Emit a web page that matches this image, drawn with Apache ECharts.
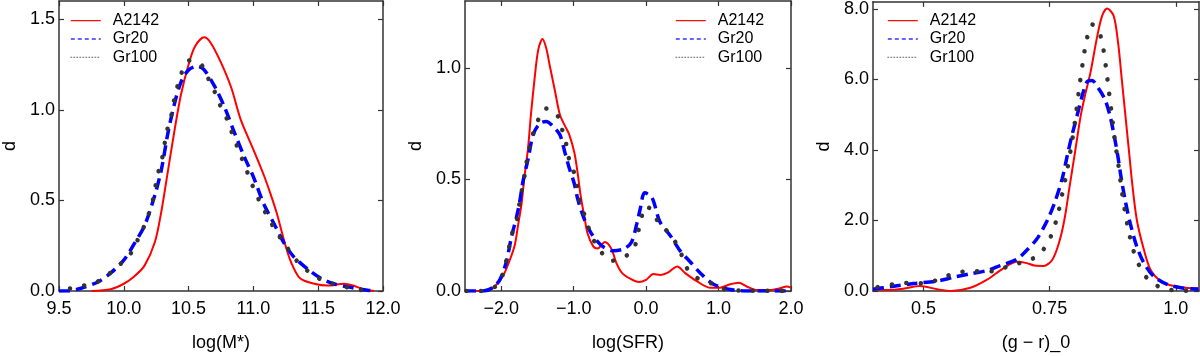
<!DOCTYPE html>
<html>
<head>
<meta charset="utf-8">
<script src="https://cdn.jsdelivr.net/npm/echarts@6/dist/echarts.min.js"></script>
<style>
  html, body { margin: 0; padding: 0; background: #fff; }
  #main { width: 1200px; height: 357px; }
</style>
</head>
<body>
<div id="main"></div>
<script>
// density curves, [x, d]
const massA2142 = [[9.75,0],[9.9,0.01],[10.0,0.04],[10.08,0.08],[10.16,0.14],[10.24,0.27],[10.29,0.44],[10.34,0.66],[10.39,0.88],[10.44,1.08],[10.5,1.25],[10.55,1.35],[10.62,1.40],[10.67,1.37],[10.75,1.26],[10.83,1.12],[10.9,0.95],[11.0,0.78],[11.08,0.64],[11.13,0.54],[11.18,0.43],[11.24,0.27],[11.29,0.16],[11.36,0.07],[11.47,0.04],[11.57,0.03],[11.7,0.04],[11.77,0.03],[11.85,0.01],[11.93,0]];
const massGr20 = [[9.5,0],[9.57,0],[9.67,0.015],[9.8,0.05],[9.9,0.1],[10.0,0.17],[10.08,0.26],[10.16,0.36],[10.24,0.53],[10.29,0.67],[10.34,0.87],[10.39,1.03],[10.44,1.15],[10.5,1.22],[10.57,1.24],[10.62,1.22],[10.7,1.13],[10.78,1.01],[10.85,0.88],[10.93,0.74],[11.0,0.63],[11.08,0.48],[11.16,0.37],[11.24,0.26],[11.31,0.19],[11.42,0.12],[11.52,0.07],[11.62,0.04],[11.75,0.02],[11.88,0.004],[11.95,0]];
const massGr100 = [[9.585,0.014],[9.687,0.029],[9.802,0.053],[9.892,0.098],[9.974,0.149],[10.053,0.207],[10.105,0.279],[10.153,0.351],[10.192,0.424],[10.225,0.504],[10.245,0.58],[10.268,0.659],[10.297,0.736],[10.315,0.812],[10.335,0.888],[10.366,0.967],[10.386,1.047],[10.412,1.123],[10.435,1.185],[10.507,1.272],[10.596,1.25],[10.648,1.178],[10.694,1.112],[10.737,1.034],[10.788,0.962],[10.827,0.888],[10.865,0.815],[10.904,0.743],[10.947,0.667],[10.986,0.594],[11.032,0.518],[11.083,0.446],[11.139,0.373],[11.196,0.306],[11.255,0.246],[11.319,0.179],[11.403,0.12],[11.493,0.074],[11.595,0.043],[11.698,0.025],[11.813,0.007],[11.928,0]];

const sfrA2142 = [[-2.5,0],[-2.2,0],[-2.06,0.03],[-1.97,0.07],[-1.88,0.14],[-1.81,0.21],[-1.77,0.29],[-1.72,0.39],[-1.68,0.51],[-1.63,0.64],[-1.59,0.79],[-1.54,0.95],[-1.49,1.08],[-1.43,1.13],[-1.38,1.09],[-1.33,1.01],[-1.26,0.90],[-1.19,0.79],[-1.12,0.74],[-1.06,0.70],[-0.99,0.62],[-0.95,0.54],[-0.90,0.42],[-0.85,0.33],[-0.81,0.26],[-0.73,0.20],[-0.67,0.19],[-0.57,0.22],[-0.48,0.19],[-0.41,0.125],[-0.33,0.08],[-0.22,0.055],[-0.1,0.04],[0.0,0.05],[0.1,0.076],[0.2,0.072],[0.3,0.082],[0.43,0.11],[0.54,0.08],[0.7,0.044],[0.88,0.015],[1.02,0.015],[1.16,0.03],[1.28,0.037],[1.39,0.02],[1.53,0.004],[1.71,0.004],[1.85,0.012],[1.94,0.02],[2.0,0.015]];
const sfrGr20 = [[-2.5,0],[-2.25,0],[-2.12,0.015],[-2.02,0.05],[-1.93,0.13],[-1.86,0.24],[-1.79,0.33],[-1.75,0.39],[-1.70,0.49],[-1.63,0.59],[-1.56,0.70],[-1.47,0.75],[-1.38,0.76],[-1.29,0.74],[-1.19,0.70],[-1.12,0.62],[-1.06,0.55],[-0.99,0.48],[-0.95,0.42],[-0.88,0.345],[-0.81,0.29],[-0.73,0.245],[-0.6,0.2],[-0.45,0.18],[-0.3,0.19],[-0.2,0.22],[-0.13,0.30],[-0.08,0.37],[-0.02,0.44],[0.08,0.42],[0.19,0.31],[0.33,0.25],[0.47,0.18],[0.61,0.13],[0.75,0.08],[0.93,0.03],[1.16,0.007],[1.39,0],[2.0,0]];
const sfrGr100 = [[-2.48,0],[-2.28,0],[-2.08,0.02],[-1.98,0.073],[-1.85,0.257],[-1.78,0.323],[-1.75,0.389],[-1.68,0.514],[-1.65,0.577],[-1.61,0.642],[-1.56,0.705],[-1.49,0.767],[-1.38,0.818],[-1.24,0.796],[-1.17,0.734],[-1.11,0.671],[-1.08,0.609],[-1.01,0.548],[-0.96,0.482],[-0.93,0.421],[-0.87,0.36],[-0.81,0.298],[-0.74,0.239],[-0.64,0.184],[-0.49,0.135],[-0.31,0.151],[-0.17,0.19],[-0.12,0.25],[-0.07,0.32],[-0.01,0.38],[0.09,0.36],[0.18,0.30],[0.32,0.26],[0.42,0.21],[0.51,0.147],[0.59,0.088],[0.75,0.05],[0.94,0.03],[1.12,0.004],[1.32,0.002],[1.93,0]];

const colorA2142 = [[0.4,0.04],[0.43,0.03],[0.46,0.065],[0.493,0.14],[0.527,0.05],[0.555,0.0],[0.593,0.09],[0.626,0.32],[0.659,0.65],[0.685,0.83],[0.705,0.79],[0.72,0.72],[0.738,0.71],[0.755,0.88],[0.768,1.34],[0.779,2.0],[0.79,3.0],[0.801,4.0],[0.812,5.0],[0.821,5.6],[0.831,6.2],[0.844,7.2],[0.854,7.8],[0.864,8.01],[0.877,7.8],[0.886,7.0],[0.893,6.0],[0.9,5.0],[0.907,4.0],[0.914,3.0],[0.923,2.0],[0.937,1.16],[0.95,0.6],[0.97,0.28],[0.996,0.14],[1.03,0.08],[1.045,0.08]];
const colorGr20 = [[0.4,0.05],[0.434,0.12],[0.48,0.21],[0.527,0.28],[0.56,0.39],[0.593,0.49],[0.626,0.58],[0.652,0.72],[0.685,0.9],[0.705,1.16],[0.725,1.48],[0.745,1.99],[0.761,2.55],[0.775,3.19],[0.785,3.84],[0.794,4.4],[0.804,4.95],[0.814,5.51],[0.824,5.93],[0.834,5.97],[0.847,5.74],[0.86,5.42],[0.87,4.95],[0.878,4.4],[0.885,3.84],[0.892,3.19],[0.9,2.55],[0.91,1.9],[0.923,1.25],[0.937,0.79],[0.956,0.42],[0.983,0.19],[1.016,0.08],[1.045,0.05]];
const colorGr100 = [[0.409,0.11],[0.439,0.19],[0.468,0.23],[0.497,0.22],[0.525,0.3],[0.551,0.45],[0.579,0.55],[0.608,0.56],[0.638,0.56],[0.664,0.68],[0.692,0.8],[0.718,0.93],[0.739,1.2],[0.753,1.57],[0.765,2.1],[0.775,2.75],[0.785,3.45],[0.795,4.3],[0.803,5.1],[0.81,5.9],[0.816,6.5],[0.823,7.1],[0.834,7.56],[0.849,7.3],[0.856,6.9],[0.862,6.3],[0.868,5.6],[0.874,4.9],[0.879,4.3],[0.886,3.6],[0.893,2.85],[0.9,2.2],[0.907,1.67],[0.915,1.2],[0.923,0.88],[0.935,0.51],[0.955,0.21],[0.982,0.05],[1.013,0.01],[1.045,0.01]];

// tick positions
const massTicks = [9.5, 10.0, 10.5, 11.0, 11.5, 12.0];
const sfrTicks = [-2.0, -1.0, 0.0, 1.0, 2.0];
const colorTicks = [0.5, 0.75, 1.0];
const massDTicks = [0, 0.5, 1.0, 1.5];
const sfrDTicks = [0, 0.5, 1.0];
const colorDTicks = [0, 2, 4, 6, 8];
const colorTickLabels = ['0.5', '0.75', '1.0'];

const names = ['A2142', 'Gr20', 'Gr100'];
const font = 'Liberation Sans, Arial, sans-serif';
const dark = '#333';

function fmt1(v) {
  return (v < 0 ? '\u2212' : '') + Math.abs(v).toFixed(1);
}

const panels = [
  { left: 57, xMin: 9.5, xMax: 12.0, yMax: 1.6, xTicks: massTicks, yTicks: massDTicks, xFmt: fmt1, xName: 'log(M*)', data: [massA2142, massGr20, massGr100], legendLeft: 70 },
  { left: 465, xMin: -2.5, xMax: 2.0, yMax: 1.3, xTicks: sfrTicks, yTicks: sfrDTicks, xFmt: fmt1, xName: 'log(SFR)', data: [sfrA2142, sfrGr20, sfrGr100], legendLeft: 675 },
  { left: 873, xMin: 0.4, xMax: 1.046, yMax: 8.2, xTicks: colorTicks, yTicks: colorDTicks, xFmt: function (v) { return colorTickLabels[colorTicks.indexOf(v)] || v; }, xName: '(g \u2212 r)_0', data: [colorA2142, colorGr20, colorGr100], legendLeft: 887 }
];

const seriesStyles = [
  { color: '#ff0000', width: 2, type: 'solid' },
  { color: '#0000ff', width: 3.5, type: [11, 6] },
  { color: '#333333', width: 4.5, type: [0.1, 14.4], cap: 'round' }
];
const legendStyles = [
  { color: '#ff0000', width: 1.2, type: 'solid' },
  { color: '#3333ff', width: 1.6, type: [4, 3] },
  { color: '#666666', width: 1, type: [1, 2] }
];

const grid = [], xAxis = [], yAxis = [], series = [], legend = [];

panels.forEach(function (p, i) {
  grid.push({ left: p.left, top: 1, width: 326, height: 294 });
  const line = { show: true, onZero: false, lineStyle: { color: dark, width: 1.5 } };
  const tickBase = { show: true, inside: true, length: 5, lineStyle: { color: dark, width: 1.2 } };
  xAxis.push({
    type: 'value', gridIndex: i, position: 'bottom', min: p.xMin, max: p.xMax,
    axisLine: line, splitLine: { show: false },
    axisTick: Object.assign({ customValues: p.xTicks }, tickBase),
    axisLabel: { customValues: p.xTicks, formatter: p.xFmt, margin: 9, fontSize: 18, fontFamily: font, color: '#000' },
    name: p.xName, nameLocation: 'middle', nameGap: 43,
    nameTextStyle: { fontSize: 18, fontFamily: font, color: '#000' }
  });
  xAxis.push({
    type: 'value', gridIndex: i, position: 'top', min: p.xMin, max: p.xMax,
    axisLine: line, splitLine: { show: false },
    axisTick: Object.assign({ customValues: p.xTicks }, tickBase),
    axisLabel: { show: false }
  });
  yAxis.push({
    type: 'value', gridIndex: i, position: 'left', min: 0, max: p.yMax,
    axisLine: line, splitLine: { show: false },
    axisTick: Object.assign({ customValues: p.yTicks }, tickBase),
    axisLabel: { customValues: p.yTicks, formatter: fmt1, margin: 4, fontSize: 18, fontFamily: font, color: '#000' },
    name: 'd', nameLocation: 'middle', nameGap: 40, nameRotate: 90,
    nameTextStyle: { fontSize: 18, fontFamily: font, color: '#000' }
  });
  yAxis.push({
    type: 'value', gridIndex: i, position: 'right', min: 0, max: p.yMax,
    axisLine: line, splitLine: { show: false },
    axisTick: Object.assign({ customValues: p.yTicks }, tickBase),
    axisLabel: { show: false }
  });

  p.data.forEach(function (d, k) {
    const s = seriesStyles[k];
    series.push({
      name: names[k], type: 'line', xAxisIndex: 2 * i, yAxisIndex: 2 * i,
      data: d, smooth: 0.3, symbol: 'none', clip: true,
      color: s.color,
      lineStyle: { color: s.color, width: s.width, type: s.type, cap: s.cap || 'butt' },
      z: 2 + k
    });
  });

  legend.push({
    orient: 'vertical', left: p.legendLeft, top: 12.5, padding: 0,
    itemWidth: 30, itemHeight: 10, itemGap: 2, selectedMode: false,
    textStyle: { fontSize: 16, fontFamily: font, color: '#000', lineHeight: 16.3, padding: [0, 0, 0, 7] },
    // hide the marker that echarts puts in the middle of a line icon
    itemStyle: { color: 'rgba(0,0,0,0)', borderWidth: 0, opacity: 0 },
    data: names.map(function (n, k) { return { name: n, lineStyle: legendStyles[k] }; })
  });
});

const chart = echarts.init(document.getElementById('main'), null, { renderer: 'canvas' });
chart.setOption({
  animation: false,
  backgroundColor: '#fff',
  grid: grid,
  xAxis: xAxis,
  yAxis: yAxis,
  legend: legend,
  series: series
});
</script>
</body>
</html>
